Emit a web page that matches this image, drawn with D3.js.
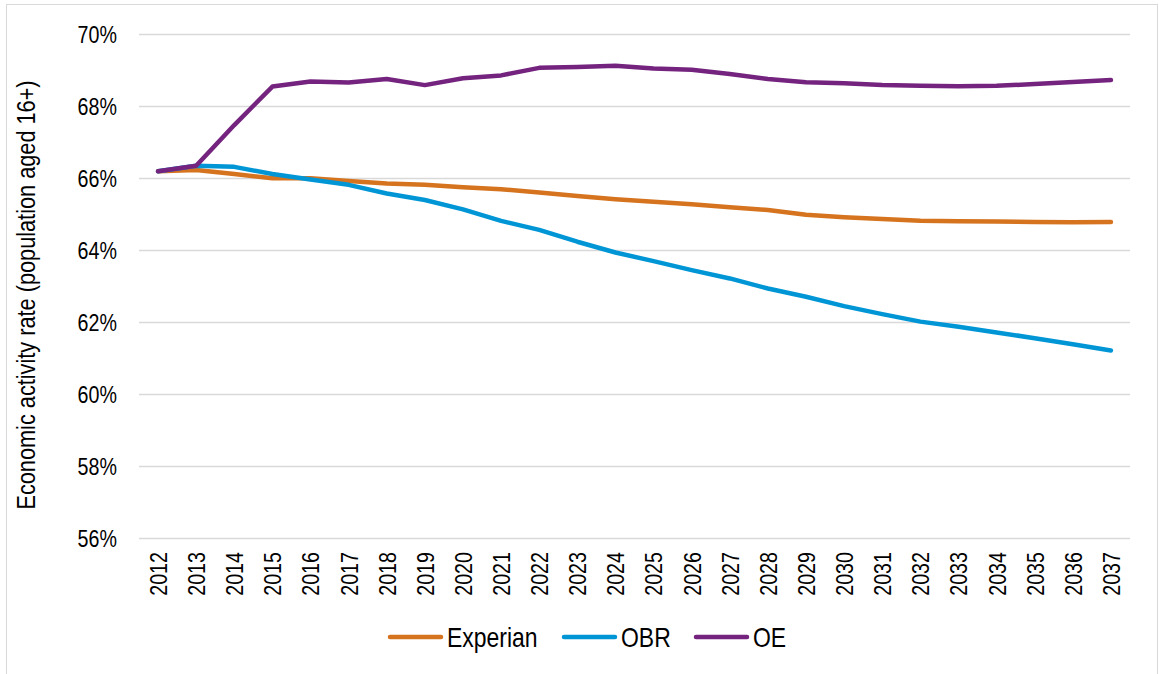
<!DOCTYPE html>
<html>
<head>
<meta charset="utf-8">
<script src="https://cdn.jsdelivr.net/npm/d3@7"></script>
<style>
  body { margin: 0; background: #fff; }
  text { font-family: "Liberation Sans", Arial, sans-serif; fill: #000; }
</style>
</head>
<body>
<div id="chart"></div>
<script>
// années
const years = d3.range(2012, 2038).map(String);

// taux d'activité (%)
const experian = [66.19, 66.22, 66.11, 65.99, 65.99, 65.92, 65.85, 65.81, 65.74, 65.69, 65.60, 65.50, 65.41,
  65.34, 65.27, 65.19, 65.11, 64.98, 64.91, 64.86, 64.81, 64.80, 64.79, 64.78, 64.77, 64.78];
const obr = [66.19, 66.34, 66.31, 66.11, 65.96, 65.81, 65.57, 65.39, 65.13, 64.81, 64.56, 64.23, 63.93,
  63.69, 63.44, 63.21, 62.93, 62.70, 62.44, 62.22, 62.01, 61.87, 61.71, 61.55, 61.38, 61.21];
const oe = [66.19, 66.34, 67.47, 68.54, 68.68, 68.65, 68.75, 68.58, 68.77, 68.85, 69.06, 69.08, 69.12,
  69.04, 69.01, 68.89, 68.75, 68.66, 68.63, 68.58, 68.56, 68.55, 68.56, 68.61, 68.67, 68.72];

const seriesNames = ["Experian", "OBR", "OE"];
const colors = ["#D5731F", "#0096D6", "#74237E"];
const yTicks = [56, 58, 60, 62, 64, 66, 68, 70];

const W = 1159, H = 674;
const margin = { top: 34, right: 29, bottom: 136, left: 139 };
const width = W - margin.left - margin.right,
      height = H - margin.top - margin.bottom;
const narrow = "scale(0.82,1)"; // pas d'Arial Narrow -> on compresse

const svg = d3.select("#chart").append("svg")
  .attr("width", W).attr("height", H);

// cadre
svg.append("rect")
  .attr("x", 6.5).attr("y", 4.5)
  .attr("width", W - 8).attr("height", H - 2)
  .attr("fill", "none").attr("stroke", "#d9d9d9");

const g = svg.append("g")
  .attr("transform", "translate(" + margin.left + "," + margin.top + ")");

const x = d3.scalePoint().domain(years).range([0, width]).padding(0.5);
const y = d3.scaleLinear().domain([56, 70]).range([height, 0]);

// grille + axe Y
const yAxis = g.append("g")
  .call(d3.axisLeft(y).tickValues(yTicks).tickSize(-width).tickFormat(d => d + "%"));
yAxis.select(".domain").remove();
yAxis.selectAll(".tick line").attr("stroke", "#d9d9d9").attr("stroke-width", 1.5);
yAxis.selectAll(".tick text")
  .attr("x", 0).attr("dy", "0.34em")
  .attr("font-size", 24)
  .attr("transform", "translate(-22,0) " + narrow);

// axe X
const xAxis = g.append("g")
  .attr("transform", "translate(0," + height + ")")
  .call(d3.axisBottom(x).tickSize(0));
xAxis.select(".domain").remove();
xAxis.selectAll("text")
  .attr("font-size", 24)
  .attr("text-anchor", "end")
  .attr("dy", "0.35em")
  .attr("x", 0).attr("y", 0)
  .attr("transform", "translate(0,14) rotate(-90) " + narrow);

// titre axe Y
svg.append("text")
  .attr("transform", "translate(26,295) rotate(-90) " + narrow)
  .attr("text-anchor", "middle")
  .attr("dy", "0.35em")
  .attr("font-size", 26.5)
  .text("Economic activity rate (population aged 16+)");

// courbes
const line = d3.line()
  .x((d, i) => x(years[i]))
  .y(d => y(d));

[experian, obr, oe].forEach((s, k) => {
  g.append("path")
    .datum(s)
    .attr("fill", "none")
    .attr("stroke", colors[k])
    .attr("stroke-width", 4.5)
    .attr("stroke-linejoin", "round")
    .attr("stroke-linecap", "round")
    .attr("d", line);
});

// légende
const legendX = [390, 564, 696];
const leg = svg.append("g");
seriesNames.forEach((name, k) => {
  leg.append("line")
    .attr("x1", legendX[k]).attr("x2", legendX[k] + 51)
    .attr("y1", 637).attr("y2", 637)
    .attr("stroke", colors[k]).attr("stroke-width", 4.5)
    .attr("stroke-linecap", "round");
  leg.append("text")
    .attr("transform", "translate(" + (legendX[k] + 57) + ",637) " + narrow)
    .attr("dy", "0.36em")
    .attr("font-size", 28)
    .text(name);
});
</script>
</body>
</html>
